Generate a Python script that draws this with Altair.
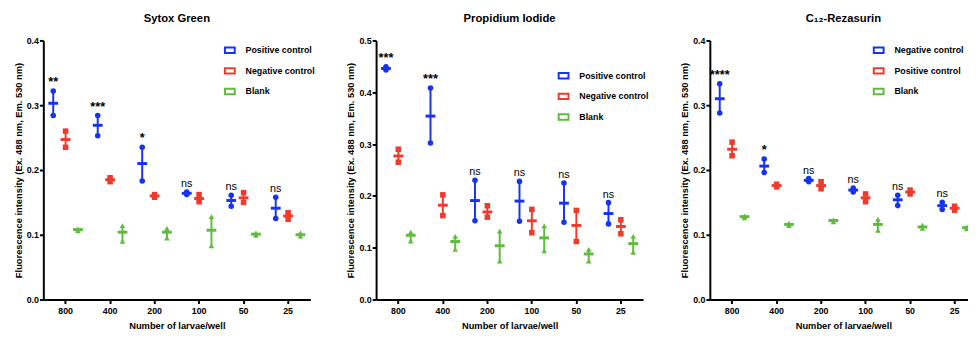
import altair as alt
import pandas as pd

categories = ["800", "400", "200", "100", "50", "25"]

# ---- Sytox Green ----
sg_names = ["Positive control", "Negative control", "Blank"]
sg_pos_mean = [0.303, 0.269, 0.210, 0.164, 0.153, 0.141]
sg_pos_lo = [0.284, 0.253, 0.183, 0.162, 0.144, 0.125]
sg_pos_hi = [0.322, 0.284, 0.235, 0.166, 0.161, 0.158]
sg_neg_mean = [0.247, 0.185, 0.160, 0.156, 0.157, 0.129]
sg_neg_lo = [0.235, 0.182, 0.158, 0.151, 0.150, 0.124]
sg_neg_hi = [0.260, 0.188, 0.162, 0.162, 0.165, 0.134]
sg_blank_mean = [0.108, 0.104, 0.104, 0.107, 0.101, 0.100]
sg_blank_lo = [0.106, 0.090, 0.095, 0.083, 0.099, 0.098]
sg_blank_hi = [0.109, 0.114, 0.110, 0.128, 0.103, 0.103]
sg_sig = ["**", "***", "*", "ns", "ns", "ns"]

# ---- Propidium Iodide ----
pi_names = ["Positive control", "Negative control", "Blank"]
pi_pos_mean = [0.446, 0.354, 0.191, 0.190, 0.186, 0.166]
pi_pos_lo = [0.443, 0.302, 0.152, 0.151, 0.149, 0.146]
pi_pos_hi = [0.449, 0.408, 0.230, 0.228, 0.225, 0.187]
pi_neg_mean = [0.277, 0.182, 0.169, 0.152, 0.143, 0.141]
pi_neg_lo = [0.265, 0.162, 0.159, 0.129, 0.112, 0.127]
pi_neg_hi = [0.290, 0.202, 0.181, 0.174, 0.172, 0.154]
pi_blank_mean = [0.124, 0.112, 0.104, 0.119, 0.088, 0.108]
pi_blank_lo = [0.113, 0.097, 0.074, 0.094, 0.074, 0.091]
pi_blank_hi = [0.130, 0.122, 0.132, 0.142, 0.097, 0.122]
pi_sig = ["***", "***", "ns", "ns", "ns", "ns"]

# ---- C12-Rezasurin ----
rz_names = ["Negative control", "Positive control", "Blank"]
rz_blue_mean = [0.310, 0.206, 0.184, 0.169, 0.154, 0.145]
rz_blue_lo = [0.288, 0.196, 0.182, 0.166, 0.145, 0.139]
rz_blue_hi = [0.333, 0.217, 0.187, 0.172, 0.161, 0.150]
rz_red_mean = [0.232, 0.176, 0.176, 0.157, 0.166, 0.141]
rz_red_lo = [0.222, 0.174, 0.171, 0.151, 0.163, 0.138]
rz_red_hi = [0.243, 0.178, 0.182, 0.163, 0.169, 0.144]
rz_green_mean = [0.128, 0.116, 0.122, 0.116, 0.112, 0.111]
rz_green_lo = [0.126, 0.114, 0.120, 0.107, 0.110, 0.109]
rz_green_hi = [0.129, 0.118, 0.123, 0.124, 0.115, 0.112]
rz_sig = ["****", "*", "ns", "ns", "ns", "ns"]

COLORS = ["#1633F2", "#EE3B2E", "#5EBC3D"]
SHAPES = ["circle", "square", "triangle-up"]
FONT = "Liberation Sans, Arial, sans-serif"
W, H = 272, 264


def build_df(names, series, sig):
    rows = []
    for gi, (name, (m, lo, hi)) in enumerate(zip(names, series)):
        for ci, cat in enumerate(categories):
            rows.append({
                "cat": cat, "group": name,
                "mean": m[ci], "lo": lo[ci], "hi": hi[ci],
                "sig": sig[ci] if gi == 0 else "",
            })
    return pd.DataFrame(rows)


def panel(title, names, series, sig, ymax, legend_x, legend_y):
    df = build_df(names, series, sig)
    base = alt.Chart(df)
    x = alt.X("cat:N", sort=categories,
              scale=alt.Scale(paddingInner=0, paddingOuter=0),
              axis=alt.Axis(title="Number of larvae/well", labelAngle=0))
    xo = alt.XOffset("group:N", sort=names,
                     scale=alt.Scale(domain=names, paddingInner=0, paddingOuter=0.3))
    yscale = alt.Scale(domain=[0, ymax], nice=False, zero=True)
    yaxis = alt.Axis(title="Fluorescence intensity (Ex. 488 nm, Em. 530 nm)",
                     values=[round(v * 0.1, 1) for v in range(int(round(ymax * 10)) + 1)],
                     format=".1f")
    cscale = alt.Scale(domain=names, range=COLORS)

    layers = [base.mark_rule(strokeWidth=2).encode(
        x=x, xOffset=xo,
        y=alt.Y("lo:Q", scale=yscale, axis=yaxis),
        y2="hi:Q",
        stroke=alt.Stroke("group:N", scale=cscale, legend=alt.Legend(
            title=None, orient="none", legendX=legend_x, legendY=legend_y,
            symbolType="M-1,-0.55H1V0.55H-1Z", symbolSize=100, symbolStrokeWidth=2,
            symbolFillColor="white", labelFont=FONT, labelFontSize=9,
            labelFontWeight="bold", labelColor="black", rowPadding=7,
            labelOffset=10, values=names)),
    )]
    for name, col, shp in zip(names, COLORS, SHAPES):
        sub = base.transform_filter(alt.datum.group == name)
        layers.append(sub.mark_tick(thickness=3, size=10, color=col, opacity=1).encode(
            x=x, xOffset=xo, y=alt.Y("mean:Q", scale=yscale)))
        layers.append(sub.transform_fold(["lo", "hi"], as_=["which", "val"]).mark_point(
            filled=True, size=32, opacity=1, color=col, shape=shp).encode(
            x=x, xOffset=xo, y=alt.Y("val:Q", scale=yscale)))
    layers.append(base.transform_filter(alt.datum.sig == "ns").mark_text(
        baseline="bottom", dy=-3, fontSize=11, font=FONT, color="black").encode(
        x=x, xOffset=xo, y=alt.Y("hi:Q", scale=yscale), text="sig:N"))
    layers.append(base.transform_filter(
        (alt.datum.sig != "") & (alt.datum.sig != "ns")).mark_text(
        baseline="bottom", dy=-2, fontSize=13, fontWeight="bold", font=FONT,
        color="black").encode(
        x=x, xOffset=xo, y=alt.Y("hi:Q", scale=yscale), text="sig:N"))
    return alt.layer(*layers).properties(
        width=W, height=H,
        title=alt.TitleParams(title, fontSize=11.5, font=FONT, fontWeight="bold",
                              frame="group", anchor="middle", offset=12, color="black"),
    )


p1 = panel("Sytox Green", sg_names,
           [(sg_pos_mean, sg_pos_lo, sg_pos_hi), (sg_neg_mean, sg_neg_lo, sg_neg_hi),
            (sg_blank_mean, sg_blank_lo, sg_blank_hi)], sg_sig, 0.4, 184, 4)
p2 = panel("Propidium Iodide", pi_names,
           [(pi_pos_mean, pi_pos_lo, pi_pos_hi), (pi_neg_mean, pi_neg_lo, pi_neg_hi),
            (pi_blank_mean, pi_blank_lo, pi_blank_hi)], pi_sig, 0.5, 185, 30)
p3 = panel("C₁₂-Rezasurin", rz_names,
           [(rz_blue_mean, rz_blue_lo, rz_blue_hi), (rz_red_mean, rz_red_lo, rz_red_hi),
            (rz_green_mean, rz_green_lo, rz_green_hi)], rz_sig, 0.4, 166, 4)

chart = alt.hconcat(p1, p2, p3, spacing=31).resolve_scale(
    stroke="independent", y="independent", x="independent", xOffset="independent",
).resolve_legend(stroke="independent").properties(
    padding={"left": 5, "top": 2, "right": -9, "bottom": -2}
).configure_view(stroke=None).configure_axis(
    grid=False, domainColor="black", domainWidth=2, tickColor="black", tickWidth=2,
    tickSize=4, labelFont=FONT, labelFontSize=9, labelFontWeight="bold",
    labelColor="black", titleFont=FONT, titleFontSize=9.5, titleFontWeight="bold",
    titleColor="black",
).configure_axisX(titlePadding=5, labelPadding=3).configure_axisY(
    titlePadding=3, labelPadding=1)

chart.save("out.html", embed_options={"renderer": "svg", "actions": False})
